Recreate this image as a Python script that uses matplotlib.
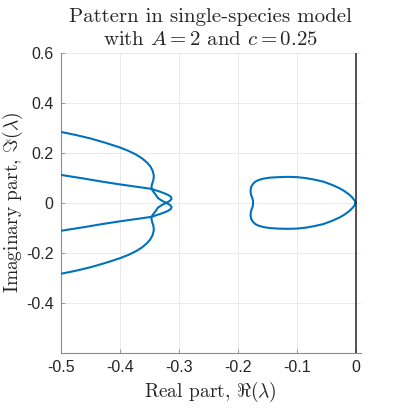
import numpy as np
import matplotlib
matplotlib.use("Agg")
import matplotlib.pyplot as plt

# ------------------------------------------------------------------
# eigenvalue curves (real part, imaginary part)
# upper-outer branch that crosses over to the lower-inner branch;
# its complex conjugate gives the second branch
# ------------------------------------------------------------------
branch_re = [-0.500, -0.475, -0.450, -0.425, -0.400, -0.385, -0.372, -0.362,
             -0.354, -0.348, -0.344, -0.342, -0.343, -0.345, -0.346, -0.346,
             -0.343, -0.339, -0.335, -0.328, -0.321, -0.315, -0.312, -0.313,
             -0.318, -0.325, -0.332, -0.340, -0.346, -0.370, -0.400, -0.430,
             -0.460, -0.500]
branch_im = [0.284, 0.272, 0.258, 0.241, 0.222, 0.208, 0.193, 0.178,
             0.162, 0.146, 0.128, 0.108, 0.090, 0.076, 0.065, 0.056,
             0.045, 0.033, 0.019, 0.008, 0.000, -0.008, -0.016, -0.024,
             -0.032, -0.039, -0.045, -0.051, -0.056, -0.064, -0.074, -0.085,
             -0.097, -0.112]

# closed loop near the origin (upper half, right tip to left side)
loop_re = [0.000, -0.002, -0.006, -0.012, -0.019, -0.027, -0.040, -0.055,
           -0.070, -0.084, -0.100, -0.115, -0.130, -0.145, -0.156, -0.164,
           -0.170, -0.174, -0.177, -0.178, -0.178, -0.177, -0.175, -0.174,
           -0.174]
loop_im = [0.000, 0.010, 0.022, 0.035, 0.047, 0.058, 0.072, 0.085,
           0.093, 0.099, 0.103, 0.104, 0.103, 0.101, 0.097, 0.092,
           0.085, 0.076, 0.065, 0.053, 0.042, 0.030, 0.018, 0.008,
           0.000]

x_ticks = [-0.5, -0.4, -0.3, -0.2, -0.1, 0]
y_ticks = [-0.4, -0.2, 0, 0.2, 0.4, 0.6]

plt.rcParams['mathtext.fontset'] = 'cm'
plt.rcParams['axes.unicode_minus'] = False
plt.rcParams['font.family'] = 'Liberation Sans'

blue = '#0072BD'
axcol = '#8c8c8c'
txtcol = '#262626'

fig = plt.figure(figsize=(3.99, 4.20), dpi=100)
ax = fig.add_axes([0.152, 0.160, 0.752, 0.714])

b_re = np.array(branch_re)
b_im = np.array(branch_im)
ax.plot(b_re, b_im, color=blue, lw=1.5, zorder=3, solid_joinstyle='round')
ax.plot(b_re, -b_im, color=blue, lw=1.5, zorder=3, solid_joinstyle='round')

l_re = np.array(loop_re)
l_im = np.array(loop_im)
ax.plot(np.concatenate([l_re, l_re[::-1]]), np.concatenate([l_im, -l_im[::-1]]),
        color=blue, lw=1.5, zorder=3, solid_joinstyle='round')

# imaginary axis
ax.axvline(0, color=txtcol, lw=1.1, zorder=4)

ax.set_xlim(-0.5, 0.0085)
ax.set_ylim(-0.6, 0.6)
ax.set_xticks(x_ticks)
ax.set_xticklabels(['-0.5', '-0.4', '-0.3', '-0.2', '-0.1', '0'])
ax.set_yticks(y_ticks)
ax.set_yticklabels(['-0.4', '-0.2', '0', '0.2', '0.4', '0.6'])
ax.tick_params(direction='in', length=3, width=0.6, color=axcol,
               labelsize=11.5, labelcolor=txtcol, pad=5)

ax.grid(True, color='#e6e6e6', lw=0.6, zorder=0)
ax.set_axisbelow(True)

ax.spines['top'].set_visible(False)
ax.spines['right'].set_visible(False)
for s in ['left', 'bottom']:
    ax.spines[s].set_color(axcol)
    ax.spines[s].set_linewidth(0.8)

ax.set_title('Pattern in single-species model\nwith $A = 2$ and $c = 0.25$',
             fontfamily='cmr10', fontsize=15, color=txtcol, pad=6,
             linespacing=1.35)
ax.set_xlabel(r'Real part, $\Re(\lambda)$', fontfamily='cmr10', fontsize=14,
              color=txtcol, labelpad=4)
ax.set_ylabel(r'Imaginary part, $\Im(\lambda)$', fontfamily='cmr10', fontsize=14,
              color=txtcol, labelpad=0.5)

fig.savefig('out.png', dpi=100)
